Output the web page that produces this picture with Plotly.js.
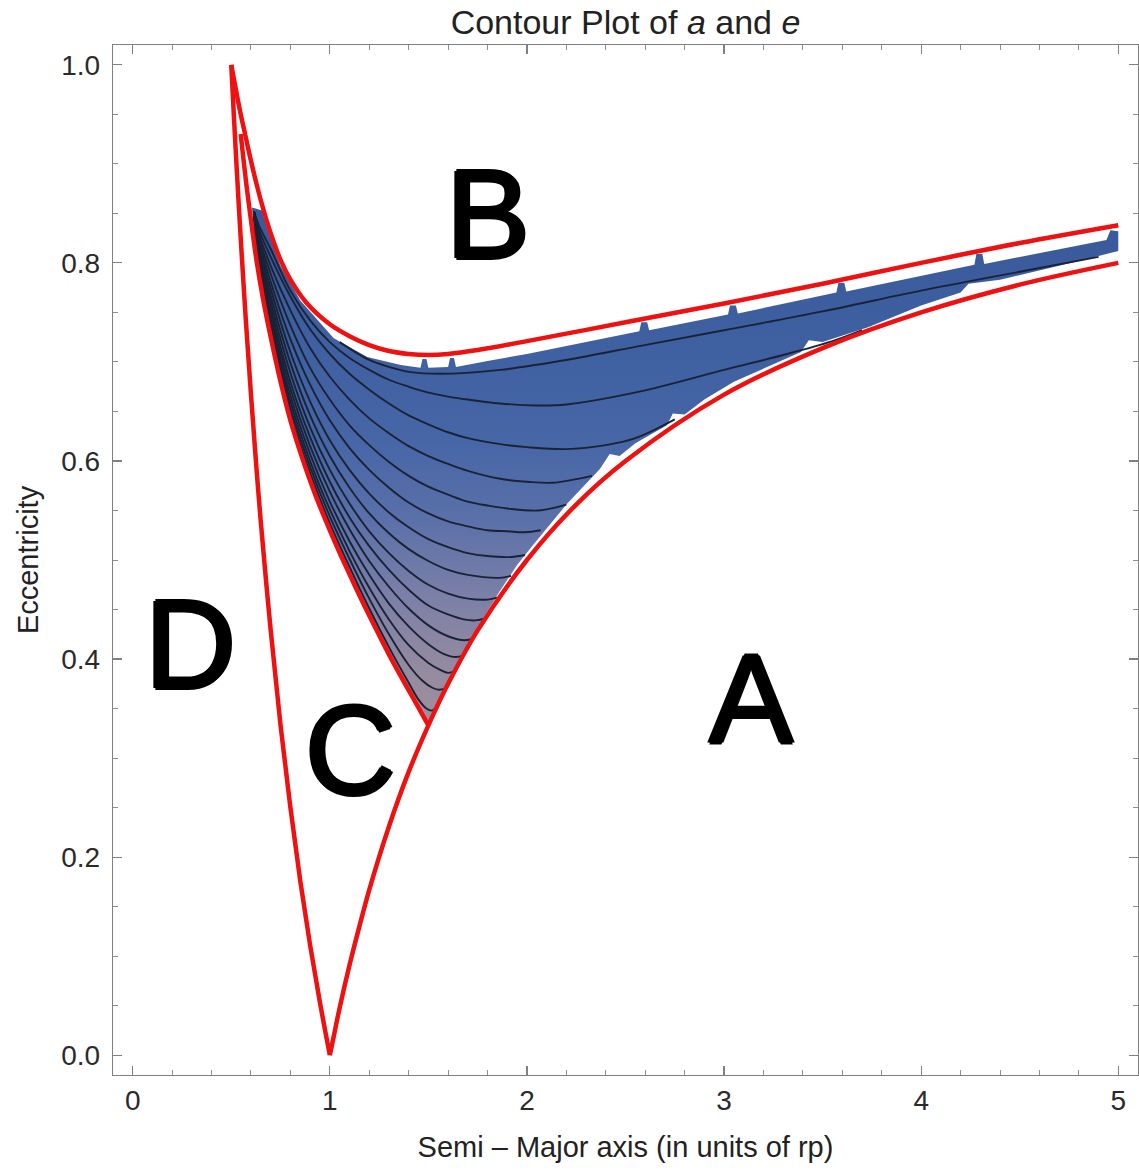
<!DOCTYPE html>
<html>
<head>
<meta charset="utf-8">
<script src="https://cdn.plot.ly/plotly-3.0.1.min.js"></script>
<style>html,body{margin:0;padding:0;background:#fff;}#chart{width:1139px;height:1170px;}</style>
</head>
<body>
<div id="chart"></div>
<script>
// ---- red boundary curves (a = semi-major axis, e = eccentricity) ----
const outerLeftA  = [0.5, 0.51, 0.52, 0.535, 0.55, 0.575, 0.6, 0.625, 0.65, 0.7, 0.75, 0.8, 0.85, 0.9, 0.95, 1.0];
const outerLeftE  = [1.0, 0.961, 0.923, 0.869, 0.818, 0.739, 0.667, 0.6, 0.538, 0.429, 0.333, 0.25, 0.176, 0.111, 0.053, 0.0];
const outerRightA = [1.0, 1.025, 1.05, 1.1, 1.15, 1.2, 1.3, 1.4, 1.5, 1.6, 1.75, 2.0, 2.25, 2.5, 3.0, 3.5, 4.0, 4.5, 5.0];
const outerRightE = [0.0, 0.024, 0.048, 0.091, 0.13, 0.167, 0.231, 0.286, 0.333, 0.375, 0.429, 0.5, 0.556, 0.6, 0.667, 0.714, 0.75, 0.778, 0.8];
const upperA = [0.5, 0.515, 0.53, 0.55, 0.57, 0.6, 0.65, 0.7, 0.75, 0.8, 0.88, 1.0, 1.1, 1.2, 1.3, 1.4, 1.5, 1.6, 1.75, 2.0, 2.5, 3.0, 3.5, 4.0, 4.5, 5.0];
const upperE = [1.0, 0.984, 0.968, 0.948, 0.93, 0.903, 0.863, 0.83, 0.803, 0.783, 0.76, 0.738, 0.726, 0.717, 0.711, 0.708, 0.707, 0.708, 0.712, 0.721, 0.74, 0.759, 0.779, 0.8, 0.82, 0.838];
const innerA = [0.548, 0.575, 0.6, 0.63, 0.66, 0.7, 0.75, 0.8, 0.86, 0.93, 1.0, 1.08, 1.16, 1.24, 1.32, 1.41, 1.5];
const innerE = [0.93, 0.882, 0.843, 0.80, 0.765, 0.725, 0.68, 0.641, 0.603, 0.564, 0.53, 0.494, 0.46, 0.428, 0.397, 0.365, 0.333];

// ---- filled (contoured) region outline: left edge, ragged lower edge, right end, ragged upper edge ----
const regionA = [0.605, 0.63, 0.66, 0.7, 0.75, 0.8, 0.86, 0.93, 1.0, 1.08, 1.16, 1.24, 1.32, 1.41, 1.5,
  1.55, 1.6, 1.66, 1.72, 1.78, 1.86, 1.95, 2.03, 2.2, 2.37, 2.42, 2.47, 2.55, 2.71, 2.74, 2.8, 2.9, 3.05, 3.39, 3.43, 3.5, 3.73, 4.0, 4.2, 4.24, 4.4, 4.8, 5.0,
  5.0, 4.96, 4.94, 4.6, 4.32, 4.31, 4.28, 4.27, 4.0, 3.62, 3.61, 3.58, 3.57, 3.07, 3.06, 3.03, 3.02, 2.62, 2.61, 2.58, 2.57,
  2.2, 2.0, 1.8, 1.64, 1.63, 1.61, 1.6, 1.5, 1.49, 1.47, 1.46, 1.36, 1.19, 1.02, 0.85, 0.75, 0.69, 0.655, 0.605];
const regionE = [0.856, 0.80, 0.765, 0.725, 0.68, 0.641, 0.603, 0.564, 0.53, 0.494, 0.46, 0.428, 0.397, 0.365, 0.334,
  0.356, 0.375, 0.40, 0.42, 0.442, 0.468, 0.495, 0.515, 0.556, 0.592, 0.607, 0.605, 0.618, 0.636, 0.648, 0.647, 0.662, 0.68, 0.71, 0.722, 0.72, 0.735, 0.757, 0.77, 0.779, 0.783, 0.802, 0.812,
  0.832, 0.833, 0.823, 0.81, 0.799, 0.809, 0.809, 0.798, 0.787, 0.771, 0.78, 0.78, 0.77, 0.749, 0.757, 0.757, 0.748, 0.732, 0.74, 0.74, 0.731,
  0.716, 0.708, 0.701, 0.695, 0.704, 0.704, 0.695, 0.694, 0.703, 0.703, 0.694, 0.697, 0.705, 0.724, 0.762, 0.797, 0.83, 0.853, 0.856];

// ---- contour lines, top (k1) to bottom (k15) ----
const k1a  = [1.05, 1.2, 1.3, 1.4, 1.56, 1.864, 2.2, 2.57, 3.0, 3.5, 4.0, 4.5, 4.9];
const k1e  = [0.72, 0.702, 0.695, 0.69, 0.688, 0.692, 0.702, 0.716, 0.732, 0.751, 0.772, 0.791, 0.806];
const k2a  = [0.615, 0.64, 0.7, 0.8, 0.9, 1.0, 1.1, 1.2, 1.3, 1.4, 1.5, 1.6, 1.7, 1.864, 2.05, 2.2, 2.57, 3.0, 3.3, 3.55, 3.7];
const k2e  = [0.852, 0.838, 0.814, 0.772, 0.742, 0.72, 0.704, 0.692, 0.682, 0.675, 0.669, 0.665, 0.662, 0.658, 0.656, 0.657, 0.67, 0.692, 0.707, 0.721, 0.732];
const k3a  = [0.615, 0.64, 0.7, 0.8, 0.9, 1.0, 1.1, 1.2, 1.3, 1.4, 1.5, 1.6, 1.7, 1.864, 2.0, 2.2, 2.4, 2.55, 2.75];
const k3e  = [0.852, 0.834, 0.806, 0.766, 0.733, 0.708, 0.688, 0.672, 0.658, 0.646, 0.637, 0.629, 0.623, 0.617, 0.614, 0.612, 0.616, 0.623, 0.642];
const k4a  = [0.615, 0.64, 0.7, 0.8, 0.9, 1.0, 1.1, 1.2, 1.3, 1.4, 1.5, 1.6, 1.7, 1.864, 2.0, 2.13, 2.33];
const k4e  = [0.852, 0.83, 0.797, 0.752, 0.714, 0.685, 0.662, 0.643, 0.628, 0.615, 0.605, 0.597, 0.59, 0.582, 0.579, 0.578, 0.585];
const k5a  = [0.615, 0.64, 0.7, 0.8, 0.9, 1.0, 1.1, 1.2, 1.3, 1.4, 1.5, 1.6, 1.7, 1.8, 1.9, 2.06, 2.2];
const k5e  = [0.852, 0.826, 0.789, 0.737, 0.694, 0.662, 0.636, 0.616, 0.599, 0.585, 0.574, 0.566, 0.559, 0.555, 0.552, 0.55, 0.556];
const k6a  = [0.615, 0.64, 0.7, 0.8, 0.9, 1.0, 1.1, 1.2, 1.3, 1.4, 1.5, 1.6, 1.7, 1.8, 1.9, 1.99, 2.07];
const k6e  = [0.852, 0.822, 0.781, 0.723, 0.677, 0.641, 0.613, 0.591, 0.573, 0.558, 0.547, 0.539, 0.534, 0.53, 0.529, 0.528, 0.53];
const k7a  = [0.615, 0.64, 0.7, 0.8, 0.9, 1.0, 1.1, 1.2, 1.3, 1.4, 1.5, 1.6, 1.7, 1.8, 1.92, 1.99];
const k7e  = [0.852, 0.819, 0.774, 0.71, 0.66, 0.621, 0.591, 0.567, 0.548, 0.533, 0.521, 0.513, 0.507, 0.504, 0.503, 0.505];
const k8a  = [0.615, 0.64, 0.7, 0.8, 0.9, 1.0, 1.1, 1.2, 1.3, 1.4, 1.5, 1.6, 1.7, 1.86, 1.92];
const k8e  = [0.852, 0.816, 0.767, 0.699, 0.646, 0.605, 0.573, 0.547, 0.527, 0.511, 0.499, 0.49, 0.485, 0.482, 0.484];
const k9a  = [0.615, 0.64, 0.7, 0.8, 0.9, 1.0, 1.1, 1.2, 1.3, 1.4, 1.5, 1.6, 1.7, 1.8, 1.85];
const k9e  = [0.852, 0.813, 0.761, 0.689, 0.634, 0.591, 0.557, 0.529, 0.507, 0.489, 0.475, 0.466, 0.461, 0.46, 0.462];
const k10a = [0.615, 0.64, 0.7, 0.8, 0.9, 1.0, 1.1, 1.2, 1.3, 1.4, 1.5, 1.6, 1.68, 1.74, 1.79];
const k10e = [0.852, 0.81, 0.755, 0.68, 0.624, 0.579, 0.543, 0.514, 0.49, 0.47, 0.454, 0.445, 0.44, 0.439, 0.441];
const k11a = [0.615, 0.64, 0.7, 0.8, 0.9, 1.0, 1.1, 1.2, 1.3, 1.4, 1.5, 1.6, 1.685, 1.73];
const k11e = [0.852, 0.807, 0.75, 0.673, 0.615, 0.569, 0.531, 0.499, 0.473, 0.451, 0.434, 0.423, 0.419, 0.421];
const k12a = [0.615, 0.64, 0.7, 0.8, 0.9, 1.0, 1.1, 1.2, 1.3, 1.4, 1.5, 1.58, 1.64, 1.68];
const k12e = [0.852, 0.804, 0.745, 0.666, 0.607, 0.559, 0.519, 0.485, 0.456, 0.433, 0.415, 0.405, 0.402, 0.404];
const k13a = [0.615, 0.64, 0.7, 0.8, 0.9, 1.0, 1.1, 1.2, 1.3, 1.4, 1.5, 1.56, 1.6, 1.635];
const k13e = [0.852, 0.801, 0.741, 0.66, 0.60, 0.551, 0.509, 0.472, 0.44, 0.414, 0.396, 0.389, 0.386, 0.388];
const k14a = [0.615, 0.64, 0.7, 0.8, 0.9, 1.0, 1.1, 1.2, 1.3, 1.4, 1.47, 1.52, 1.555, 1.59];
const k14e = [0.852, 0.798, 0.737, 0.654, 0.594, 0.544, 0.501, 0.461, 0.425, 0.394, 0.378, 0.371, 0.369, 0.371];
const k15a = [0.615, 0.64, 0.7, 0.8, 0.9, 1.0, 1.1, 1.2, 1.3, 1.4, 1.45, 1.49, 1.52, 1.545];
const k15e = [0.852, 0.795, 0.732, 0.648, 0.588, 0.537, 0.493, 0.451, 0.412, 0.376, 0.359, 0.35, 0.348, 0.353];

const contourA = [k1a, k2a, k3a, k4a, k5a, k6a, k7a, k8a, k9a, k10a, k11a, k12a, k13a, k14a, k15a];
const contourE = [k1e, k2e, k3e, k4e, k5e, k6e, k7e, k8e, k9e, k10e, k11e, k12e, k13e, k14e, k15e];

// ---- region labels ----
const labelText = ['A', 'B', 'C', 'D'];
const labelA = [3.137, 1.803, 1.107, 0.293];
const labelE = [0.36, 0.8485, 0.308, 0.415];

// ---- axis ticks ----
const xTickVals = [0, 1, 2, 3, 4, 5];
const xTickText = ['0', '1', '2', '3', '4', '5'];
const yTickVals = [0, 0.2, 0.4, 0.6, 0.8, 1.0];
const yTickText = ['0.0', '0.2', '0.4', '0.6', '0.8', '1.0'];

const RED = '#ee1111';
const FONT = 'Liberation Sans, Arial, sans-serif';
const traces = [];

traces.push({
  x: regionA, y: regionE, type: 'scatter', mode: 'lines',
  fill: 'toself', fillcolor: '#3e5fa0',
  fillgradient: {
    type: 'vertical', start: 0.33, stop: 0.86,
    colorscale: [[0, '#a38f9b'], [0.12, '#948aa0'], [0.25, '#7b80a7'], [0.4, '#5a70a9'], [0.55, '#4666a6'], [0.75, '#3e5fa0'], [1, '#38589a']]
  },
  line: {width: 0, color: 'rgba(0,0,0,0)'}, hoverinfo: 'skip', showlegend: false
});

for (let i = 0; i < contourA.length; i++) {
  traces.push({
    x: contourA[i], y: contourE[i], type: 'scatter', mode: 'lines',
    line: {color: '#1a2336', width: 1.9, shape: 'spline', smoothing: 1},
    hoverinfo: 'skip', showlegend: false
  });
}

[[outerLeftA, outerLeftE], [outerRightA, outerRightE], [upperA, upperE], [innerA, innerE]].forEach(p => {
  traces.push({
    x: p[0], y: p[1], type: 'scatter', mode: 'lines',
    line: {color: RED, width: 4.5, shape: 'spline', smoothing: 1},
    hoverinfo: 'skip', showlegend: false
  });
});

const annotations = labelText.map((t, i) => ({
  x: labelA[i], y: labelE[i], xref: 'x', yref: 'y', text: t, showarrow: false,
  xanchor: 'center', yanchor: 'middle',
  font: {family: FONT, size: 126, color: '#000',
    shadow: '2px 0 0 #000, -2px 0 0 #000, 0 2px 0 #000, 0 -2px 0 #000'}
}));

const axisCommon = {
  showgrid: false, zeroline: false, showline: true, linecolor: '#808080', linewidth: 1.2,
  mirror: 'ticks', ticks: 'inside', ticklen: 9, tickwidth: 1.2, tickcolor: '#808080',
  tickfont: {family: FONT, size: 28, color: '#2a2a2a'}
};

const layout = {
  width: 1139, height: 1170,
  margin: {l: 113, r: 1, t: 45, b: 95},
  paper_bgcolor: '#fff', plot_bgcolor: '#fff',
  title: {
    text: 'Contour Plot of <i>a</i> and <i>e</i>',
    font: {family: FONT, size: 34, color: '#222'},
    x: 0.5, xref: 'paper', y: 1 - 22 / 1170, yref: 'container', yanchor: 'middle'
  },
  xaxis: Object.assign({}, axisCommon, {
    range: [-0.1, 5.1], tickmode: 'array', tickvals: xTickVals, ticktext: xTickText,
    minor: {dtick: 0.2, ticks: 'inside', ticklen: 5, tickcolor: '#909090', tickwidth: 1, showgrid: false},
    title: {text: 'Semi \u2013 Major axis (in units of rp)', standoff: 22,
      font: {family: FONT, size: 29, color: '#222'}}
  }),
  yaxis: Object.assign({}, axisCommon, {
    range: [-0.02, 1.02], tickmode: 'array', tickvals: yTickVals, ticktext: yTickText,
    minor: {dtick: 0.05, ticks: 'inside', ticklen: 5, tickcolor: '#909090', tickwidth: 1, showgrid: false},
    ticklabelstandoff: 6,
    title: {text: 'Eccentricity', standoff: 14,
      font: {family: FONT, size: 29, color: '#222'}}
  }),
  annotations: annotations,
  showlegend: false
};

Plotly.newPlot('chart', traces, layout, {displayModeBar: false, staticPlot: true});
</script>
</body>
</html>
